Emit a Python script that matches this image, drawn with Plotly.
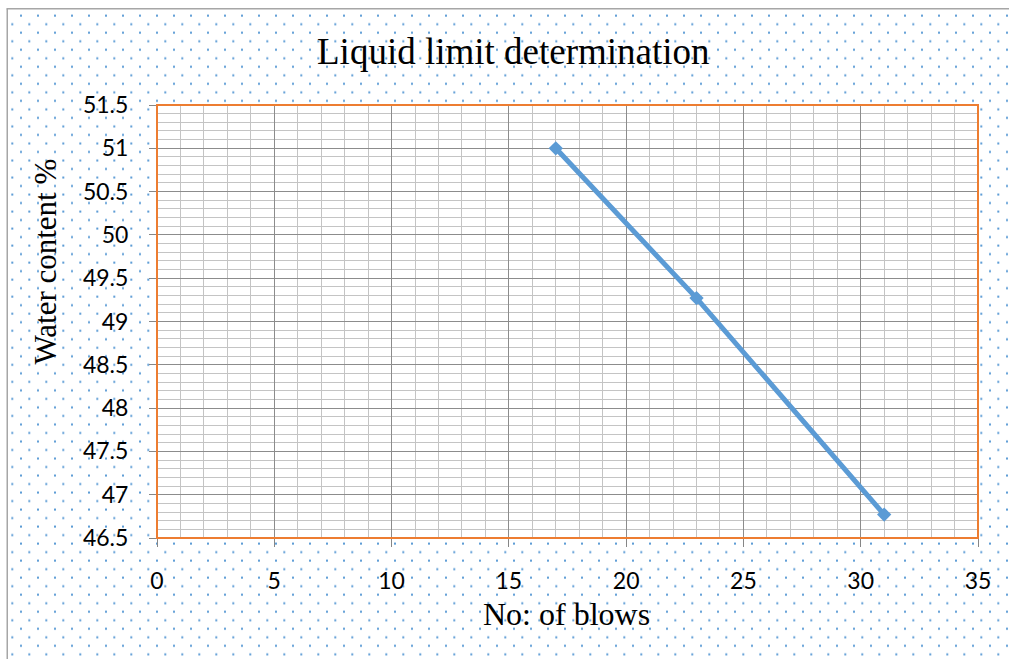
import base64
import plotly.graph_objects as go

# Liquid limit test results
blows = [17, 23, 31]
water_content = [51.0, 49.27, 46.77]

x_ticks = [0, 5, 10, 15, 20, 25, 30, 35]
x_tick_text = ["0", "5", "10", "15", "20", "25", "30", "35"]
y_ticks = [46.5, 47, 47.5, 48, 48.5, 49, 49.5, 50, 50.5, 51, 51.5]
y_tick_text = ["46.5", "47", "47.5", "48", "48.5", "49", "49.5", "50", "50.5", "51", "51.5"]

W, H = 1009, 659
# plot-area box in pixels (left, top, right, bottom)
PL, PT, PR, PB = 157, 105, 978, 538

BLUE = "#5B9BD5"
ORANGE = "#ED7D31"

# dotted chart-area fill drawn as an SVG pattern behind everything
svg = f"""<svg xmlns='http://www.w3.org/2000/svg' width='{W}' height='{H}' viewBox='0 0 {W} {H}'>
<defs>
<pattern id='dots' patternUnits='userSpaceOnUse' x='0' y='0' width='17' height='17.03'>
<rect x='3' y='14.7' width='2' height='2' fill='{BLUE}'/>
<rect x='11.3' y='6.2' width='2' height='2' fill='{BLUE}'/>
</pattern>
</defs>
<rect x='0' y='0' width='{W}' height='{H}' fill='white'/>
<rect x='8' y='10' width='{W - 8}' height='{H - 10}' fill='url(#dots)'/>
<rect x='{PL}' y='{PT}' width='{PR - PL}' height='{PB - PT}' fill='white'/>
<line x1='7.25' y1='8.75' x2='7.25' y2='{H}' stroke='#A6A6A6' stroke-width='1.5'/>
<line x1='6.5' y1='8.75' x2='{W}' y2='8.75' stroke='#A6A6A6' stroke-width='1.5'/>
</svg>"""
bg_src = "data:image/svg+xml;base64," + base64.b64encode(svg.encode()).decode()

fig = go.Figure()
fig.add_trace(go.Scatter(
    x=blows, y=water_content,
    mode="lines+markers",
    line=dict(color=BLUE, width=5),
    marker=dict(symbol="diamond", size=11, color=BLUE),
    showlegend=False,
    hoverinfo="x+y",
))

tick_font = dict(family="Lato, Carlito, sans-serif", size=23, color="#000000")
serif = "Liberation Serif, Times New Roman, serif"

fig.update_layout(
    width=W, height=H,
    margin=dict(l=0, r=0, t=0, b=0, pad=0, autoexpand=False),
    paper_bgcolor="white",
    plot_bgcolor="rgba(0,0,0,0)",
    xaxis=dict(
        domain=[PL / W, PR / W],
        range=[0, 35],
        tickmode="array", tickvals=x_ticks, ticktext=x_tick_text,
        ticks="outside", ticklen=8, tickcolor="#868686", tickwidth=1,
        showgrid=True, gridcolor="#8C8C8C", gridwidth=1,
        minor=dict(dtick=1, tick0=0, showgrid=True, gridcolor="#C4C4C4", ticks=""),
        zeroline=False, showline=False,
        tickfont=tick_font,
        ticklabelstandoff=14,
        fixedrange=True,
    ),
    yaxis=dict(
        domain=[1 - PB / H, 1 - PT / H],
        range=[46.5, 51.5],
        tickmode="array", tickvals=y_ticks, ticktext=y_tick_text,
        ticks="outside", ticklen=7, tickcolor="#868686", tickwidth=1,
        showgrid=True, gridcolor="#8C8C8C", gridwidth=1,
        minor=dict(dtick=0.1, tick0=46.5, showgrid=True, gridcolor="#C4C4C4", ticks=""),
        zeroline=False, showline=False,
        tickfont=tick_font,
        ticklabelstandoff=16,
        fixedrange=True,
    ),
    images=[dict(
        source=bg_src, xref="paper", yref="paper",
        x=0, y=1, sizex=1, sizey=1,
        xanchor="left", yanchor="top",
        sizing="stretch", layer="below",
    )],
    shapes=[dict(
        type="rect", xref="x domain", yref="y domain",
        x0=0, x1=1, y0=0, y1=1,
        line=dict(color=ORANGE, width=2), layer="above",
    )],
    annotations=[
        dict(text="Liquid limit determination", xref="paper", yref="paper",
             x=513 / W, y=1 - 51.5 / H, xanchor="center", yanchor="middle",
             showarrow=False, font=dict(family=serif, size=37, color="#000000")),
        dict(text="No: of blows", xref="paper", yref="paper",
             x=566.5 / W, y=1 - 614 / H, xanchor="center", yanchor="middle",
             showarrow=False, font=dict(family=serif, size=32, color="#000000")),
        dict(text="Water content %", xref="paper", yref="paper",
             x=44.5 / W, y=1 - 262 / H, xanchor="center", yanchor="middle",
             textangle=-90,
             showarrow=False, font=dict(family=serif, size=31, color="#000000")),
    ],
)

# keep the figure flush with the window edges
page_css = "document.body.style.margin='0';document.body.style.overflow='hidden';"
fig.write_html("out.html", post_script=page_css)
